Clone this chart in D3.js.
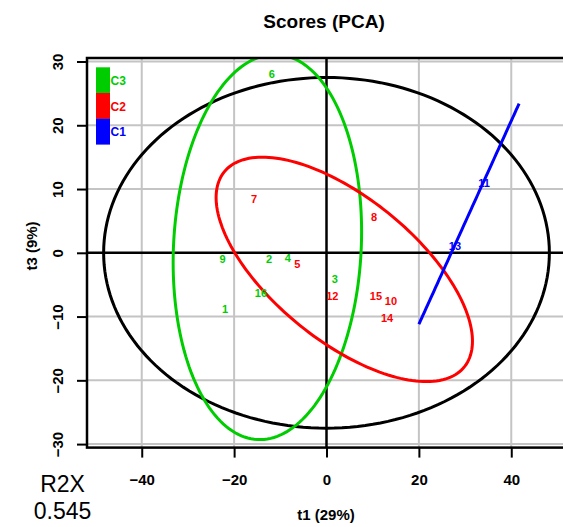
<!DOCTYPE html>
<html>
<head>
<meta charset="utf-8">
<script src="https://cdn.jsdelivr.net/npm/d3@7"></script>
<style>
  body { margin: 0; background: #fff; overflow: hidden; }
  svg { display: block; font-family: "Liberation Sans", Arial, sans-serif; }
</style>
</head>
<body>
<script>
// scores (t1, t3) for each sample
const sampleLabels = ["1","2","3","4","5","6","7","8","9","10","11","12","13","14","15","16"];
const sampleGroups = ["C3","C3","C3","C3","C2","C3","C2","C2","C3","C2","C1","C2","C1","C2","C2","C3"];
const t1Scores = [-21.95, -12.45, 1.8, -8.4, -6.3, -11.85, -15.7, 10.3, -22.5, 13.95, 34.1, 1.25, 27.8, 13.1, 10.7, -14.2];
const t3Scores = [-8.8, -0.95, -4.1, -0.8, -1.7, 28.1, 8.45, 5.6, -0.95, -7.6, 10.9, -6.85, 1.0, -10.3, -6.85, -6.3];

// ellipses: Hotelling T2 (black) + one per group
const ellipseNames = ["T2", "C3", "C2", "C1"];
const ellipseCx = [0, -12.8, 3.85, 30.85];
const ellipseCy = [0, 0.9, -2.6, 6.1];
const ellipseRx = [48.25, 20.4, 27.75, 10.85];
const ellipseRy = [27.5, 30.2, 17.6, 17.3];
const ellipseRho = [0, 0.08, -0.64, 1];

const legendNames = ["C3", "C2", "C1"];
const xTicks = [-40, -20, 0, 20, 40];
const yTicks = [-30, -20, -10, 0, 10, 20, 30];

const groupColor = {T2: "#000000", C3: "#00cd00", C2: "#ff0000", C1: "#0000ff"};

const width = 563, height = 527;

const x = d3.scaleLinear().domain([-51.85, 51.85]).range([87, 566]);
const y = d3.scaleLinear().domain([-30.55, 30.55]).range([447.6, 58]);

const svg = d3.select("body").append("svg")
    .attr("width", width)
    .attr("height", height);

svg.append("clipPath").attr("id", "plotclip")
  .append("rect")
    .attr("x", x(-51.85)).attr("y", y(30.55))
    .attr("width", x(51.85) - x(-51.85))
    .attr("height", y(-30.55) - y(30.55));

// grid
const grid = svg.append("g");
grid.selectAll(".gx")
  .data(xTicks.filter(d => d !== 0))
  .join("line")
    .attr("x1", d => x(d)).attr("x2", d => x(d))
    .attr("y1", y(30.55)).attr("y2", y(-30.55))
    .attr("stroke", "#c4c4c4").attr("stroke-width", 2);
grid.selectAll(".gy")
  .data(yTicks.filter(d => d !== 0))
  .join("line")
    .attr("y1", d => y(d)).attr("y2", d => y(d))
    .attr("x1", x(-51.85)).attr("x2", x(51.85))
    .attr("stroke", "#c4c4c4").attr("stroke-width", 2);

// zero lines
svg.append("line")
    .attr("x1", x(0)).attr("x2", x(0))
    .attr("y1", y(30.55)).attr("y2", y(-30.55))
    .attr("stroke", "#000").attr("stroke-width", 2.5);
svg.append("line")
    .attr("y1", y(0)).attr("y2", y(0))
    .attr("x1", x(-51.85)).attr("x2", x(51.85))
    .attr("stroke", "#000").attr("stroke-width", 2.5);

// ellipses
const line = d3.line().x(d => x(d[0])).y(d => y(d[1]));
const ellipses = ellipseNames.map((name, i) => {
  const pts = d3.range(0, 361, 2).map(a => {
    const t = a * Math.PI / 180;
    const r = ellipseRho[i];
    return [ellipseCx[i] + ellipseRx[i] * Math.cos(t),
            ellipseCy[i] + ellipseRy[i] * (r * Math.cos(t) + Math.sqrt(1 - r * r) * Math.sin(t))];
  });
  return {name, pts};
});

svg.append("g").attr("clip-path", "url(#plotclip)")
  .selectAll("path")
  .data(ellipses)
  .join("path")
    .attr("d", d => line(d.pts))
    .attr("fill", "none")
    .attr("stroke", d => groupColor[d.name])
    .attr("stroke-width", 3);

// sample labels
const samples = sampleLabels.map((lab, i) => ({lab, g: sampleGroups[i], t1: t1Scores[i], t3: t3Scores[i]}));
svg.append("g")
  .selectAll("text")
  .data(samples)
  .join("text")
    .attr("x", d => x(d.t1))
    .attr("y", d => y(d.t3))
    .attr("dy", "0.36em")
    .attr("text-anchor", "middle")
    .attr("font-size", 11)
    .attr("font-weight", "bold")
    .attr("fill", d => groupColor[d.g])
    .text(d => d.lab);

// frame
svg.append("rect")
    .attr("x", x(-51.85)).attr("y", y(30.55))
    .attr("width", x(51.85) - x(-51.85))
    .attr("height", y(-30.55) - y(30.55))
    .attr("fill", "none")
    .attr("stroke", "#000")
    .attr("stroke-width", 2.5);

// axes
const xAxis = svg.append("g")
    .attr("transform", `translate(0,${y(-30.55)})`)
    .call(d3.axisBottom(x).tickValues(xTicks).tickSize(10).tickSizeOuter(0)
      .tickFormat(d => d < 0 ? "\u2212" + Math.abs(d) : d));
xAxis.select(".domain").remove();
xAxis.selectAll(".tick line").attr("stroke-width", 2);
xAxis.selectAll(".tick text")
    .attr("y", 32).attr("dy", "0.36em")
    .attr("font-size", 15).attr("font-weight", "bold")
    .attr("font-family", "Liberation Sans, Arial, sans-serif")
    .attr("fill", "#000");

const yAxis = svg.append("g")
    .attr("transform", `translate(${x(-51.85)},0)`)
    .call(d3.axisLeft(y).tickValues(yTicks).tickSize(10).tickSizeOuter(0)
      .tickFormat(d => d < 0 ? "\u2212" + Math.abs(d) : d));
yAxis.select(".domain").remove();
yAxis.selectAll(".tick line").attr("stroke-width", 2);
yAxis.selectAll(".tick text")
    .attr("x", 0).attr("y", 0).attr("dy", "0.36em")
    .attr("transform", "translate(-29.5,0) rotate(-90)")
    .attr("text-anchor", "middle")
    .attr("font-size", 15).attr("font-weight", "bold")
    .attr("font-family", "Liberation Sans, Arial, sans-serif")
    .attr("fill", "#000");

// titles
svg.append("text")
    .attr("x", 324).attr("y", 21).attr("dy", "0.36em")
    .attr("text-anchor", "middle")
    .attr("font-size", 19).attr("font-weight", "bold")
    .text("Scores (PCA)");

svg.append("text")
    .attr("x", 326).attr("y", 515).attr("dy", "0.36em")
    .attr("text-anchor", "middle")
    .attr("font-size", 15).attr("font-weight", "bold")
    .text("t1 (29%)");

svg.append("text")
    .attr("transform", "translate(32,246) rotate(-90)")
    .attr("dy", "0.36em")
    .attr("text-anchor", "middle")
    .attr("font-size", 15).attr("font-weight", "bold")
    .text("t3 (9%)");

svg.append("text")
    .attr("x", 62.5).attr("y", 484).attr("dy", "0.36em")
    .attr("text-anchor", "middle")
    .attr("font-size", 23)
    .text("R2X");
svg.append("text")
    .attr("x", 62.5).attr("y", 511).attr("dy", "0.36em")
    .attr("text-anchor", "middle")
    .attr("font-size", 23)
    .text("0.545");

// legend
const legend = svg.append("g");
legend.selectAll("rect")
  .data(legendNames)
  .join("rect")
    .attr("x", 96).attr("y", (d, i) => 67.3 + i * 25.7)
    .attr("width", 14).attr("height", 25.9)
    .attr("fill", d => groupColor[d]);
legend.selectAll("text")
  .data(legendNames)
  .join("text")
    .attr("x", 110.5).attr("y", (d, i) => 80.7 + i * 25.5)
    .attr("dy", "0.36em")
    .attr("font-size", 12).attr("font-weight", "bold")
    .attr("fill", d => groupColor[d])
    .text(d => d);
</script>
</body>
</html>
